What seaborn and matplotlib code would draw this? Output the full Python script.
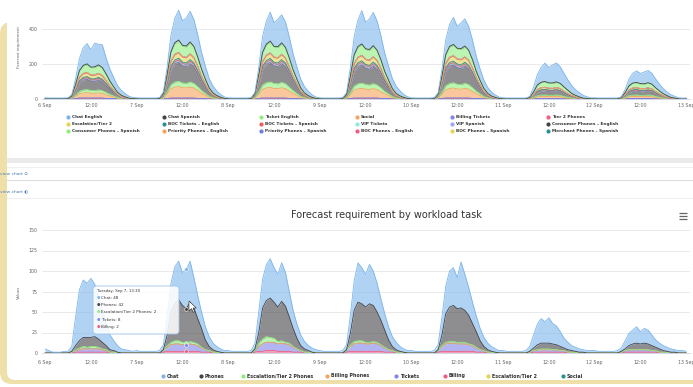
import numpy as np
import matplotlib
matplotlib.use("Agg")
import matplotlib.pyplot as plt
import seaborn as sns
from matplotlib.patches import FancyBboxPatch, Rectangle, Polygon

# ------------------------------------------------------------------ data
tick_labels = ["6 Sep", "12:00", "7 Sep", "12:00", "8 Sep", "12:00", "9 Sep", "12:00",
               "10 Sep", "12:00", "11 Sep", "12:00", "12 Sep", "12:00", "13 Sep"]

top_names = ["Chat English", "Chat Spanish", "Ticket English", "Social", "Billing Tickets",
             "Tier 2 Phones", "Escalation/Tier 2", "BOC Tickets \u2013 English",
             "BOC Tickets \u2013 Spanish", "VIP Tickets", "VIP Spanish",
             "Consumer Phones \u2013 English", "Consumer Phones \u2013 Spanish",
             "Priority Phones \u2013 English", "Priority Phones \u2013 Spanish",
             "BOC Phones \u2013 English", "BOC Phones \u2013 Spanish", "Merchant Phones \u2013 Spanish"]
top_colors = ["#7cb5ec", "#434348", "#90ed7d", "#f7a35c", "#8085e9", "#f15c80", "#e4d354",
              "#2b908f", "#f45b5b", "#91e8e1", "#9fa3f0", "#434348", "#90ed7d", "#f7a35c",
              "#6b7fe6", "#f15c80", "#e4d354", "#2b908f"]

bottom_names = ["Chat", "Phones", "Escalation/Tier 2 Phones", "Billing Phones", "Tickets",
                "Billing", "Escalation/Tier 2", "Social"]
bottom_colors = ["#7cb5ec", "#434348", "#90ed7d", "#f7a35c", "#8085e9", "#f15c80",
                 "#e4d354", "#2b908f"]

top_yticks = [0, 200, 400]
bottom_yticks = [0, 25, 50, 75, 100, 125, 150]

# hourly values, one list of 24 per day (6 Sep ... 12 Sep)
chat_english = [
    [6, 5, 5, 5, 5, 5, 5, 8, 32, 69, 101, 116, 100, 135, 118, 130, 91, 69, 53, 38, 28, 19, 11, 7],
    [6, 5, 5, 5, 5, 5, 5, 11, 44, 96, 140, 170, 140, 160, 175, 154, 126, 96, 74, 53, 39, 26, 16, 9],
    [6, 5, 5, 5, 5, 5, 5, 10, 41, 91, 132, 165, 135, 157, 160, 145, 119, 91, 69, 50, 36, 25, 15, 8],
    [6, 5, 5, 5, 5, 5, 5, 11, 48, 105, 152, 190, 150, 175, 190, 167, 137, 105, 80, 57, 42, 29, 17, 10],
    [6, 5, 5, 5, 5, 5, 5, 9, 39, 85, 124, 155, 125, 147, 155, 136, 112, 85, 65, 47, 34, 23, 14, 8],
    [6, 5, 5, 5, 5, 5, 5, 6, 27, 59, 86, 105, 88, 103, 108, 95, 78, 59, 45, 32, 24, 16, 10, 6],
    [6, 5, 5, 5, 5, 5, 5, 5, 18, 39, 56, 66, 58, 67, 70, 62, 50, 39, 29, 21, 15, 11, 6, 4],
]
chat_spanish = [
    [0, 0, 0, 0, 0, 0, 0, 0, 1, 2, 3, 4, 3, 4, 4, 4, 3, 2, 2, 1, 1, 1, 0, 0],
    [0, 0, 0, 0, 0, 0, 0, 0, 1, 3, 4, 5, 4, 5, 5, 4, 4, 3, 2, 2, 1, 1, 0, 0],
    [0, 0, 0, 0, 0, 0, 0, 0, 1, 3, 4, 5, 4, 5, 5, 4, 4, 3, 2, 2, 1, 1, 0, 0],
    [0, 0, 0, 0, 0, 0, 0, 0, 1, 3, 4, 5, 4, 5, 5, 4, 4, 3, 2, 2, 1, 1, 0, 0],
    [0, 0, 0, 0, 0, 0, 0, 0, 1, 3, 4, 5, 4, 5, 5, 4, 4, 3, 2, 2, 1, 1, 0, 0],
    [0, 0, 0, 0, 0, 0, 0, 0, 1, 2, 2, 3, 2, 3, 3, 2, 2, 2, 1, 1, 1, 0, 0, 0],
    [0, 0, 0, 0, 0, 0, 0, 0, 0, 1, 1, 2, 2, 2, 2, 2, 1, 1, 1, 1, 0, 0, 0, 0],
]
ticket_english = [
    [1, 1, 1, 1, 1, 1, 1, 5, 20, 36, 43, 45, 41, 42, 44, 41, 34, 25, 17, 11, 7, 4, 2, 1],
    [1, 1, 1, 1, 1, 1, 2, 8, 29, 52, 62, 65, 60, 60, 63, 59, 49, 36, 25, 16, 10, 6, 3, 2],
    [1, 1, 1, 1, 1, 1, 2, 7, 28, 50, 59, 62, 57, 58, 60, 56, 47, 34, 24, 16, 9, 6, 3, 2],
    [1, 1, 1, 1, 1, 1, 2, 7, 27, 48, 57, 60, 55, 56, 58, 54, 45, 33, 23, 15, 9, 5, 3, 2],
    [1, 1, 1, 1, 1, 1, 2, 7, 26, 47, 58, 59, 56, 57, 57, 53, 44, 32, 22, 15, 9, 5, 3, 2],
    [1, 1, 1, 1, 1, 1, 1, 4, 14, 24, 29, 30, 28, 28, 29, 27, 23, 17, 11, 8, 5, 3, 2, 1],
    [1, 1, 1, 1, 1, 1, 1, 3, 13, 22, 27, 28, 26, 26, 27, 25, 21, 15, 11, 7, 4, 3, 1, 1],
]
escalation_tier2 = [
    [0, 0, 0, 0, 0, 0, 1, 2, 9, 16, 19, 20, 18, 19, 19, 18, 15, 11, 8, 5, 3, 2, 1, 1],
    [0, 0, 0, 0, 0, 0, 1, 4, 14, 24, 29, 30, 28, 28, 29, 27, 23, 17, 11, 8, 5, 3, 2, 1],
    [0, 0, 0, 0, 0, 0, 1, 3, 13, 22, 27, 28, 26, 26, 27, 25, 21, 15, 11, 7, 4, 3, 1, 1],
    [0, 0, 0, 0, 0, 0, 1, 3, 13, 22, 27, 28, 26, 26, 27, 25, 21, 15, 11, 7, 4, 3, 1, 1],
    [0, 0, 0, 0, 0, 0, 1, 3, 12, 22, 26, 28, 26, 27, 27, 25, 21, 15, 10, 7, 4, 2, 1, 1],
    [0, 0, 0, 0, 0, 0, 0, 1, 5, 8, 10, 10, 9, 9, 10, 9, 8, 6, 4, 3, 2, 1, 1, 0],
    [0, 0, 0, 0, 0, 0, 0, 1, 4, 7, 9, 9, 8, 8, 9, 8, 7, 5, 3, 2, 1, 1, 0, 0],
]
boc_tickets_english = [
    [0, 0, 0, 0, 0, 0, 0, 1, 3, 5, 6, 6, 6, 6, 6, 5, 5, 3, 2, 2, 1, 1, 0, 0],
    [0, 0, 0, 0, 0, 0, 0, 1, 5, 8, 10, 10, 9, 9, 10, 9, 8, 6, 4, 3, 2, 1, 1, 0],
    [0, 0, 0, 0, 0, 0, 0, 1, 5, 8, 10, 10, 9, 9, 10, 9, 8, 6, 4, 3, 2, 1, 1, 0],
    [0, 0, 0, 0, 0, 0, 0, 1, 5, 8, 10, 10, 9, 9, 10, 9, 8, 6, 4, 3, 2, 1, 1, 0],
    [0, 0, 0, 0, 0, 0, 0, 1, 5, 8, 9, 9, 9, 9, 9, 9, 8, 6, 4, 3, 2, 1, 1, 0],
    [0, 0, 0, 0, 0, 0, 0, 0, 1, 2, 3, 3, 3, 3, 3, 3, 2, 2, 1, 1, 0, 0, 0, 0],
    [0, 0, 0, 0, 0, 0, 0, 0, 1, 2, 3, 3, 3, 3, 3, 3, 2, 2, 1, 1, 0, 0, 0, 0],
]
vip_tickets = [
    [0, 0, 0, 0, 0, 0, 0, 1, 2, 5, 6, 6, 5, 6, 6, 5, 4, 3, 2, 1, 1, 0, 0, 0],
    [0, 0, 0, 0, 0, 0, 0, 1, 4, 8, 9, 10, 9, 9, 10, 9, 7, 5, 4, 2, 1, 1, 0, 0],
    [0, 0, 0, 0, 0, 0, 0, 1, 4, 8, 9, 10, 9, 9, 10, 9, 7, 5, 4, 2, 1, 1, 0, 0],
    [0, 0, 0, 0, 0, 0, 0, 1, 4, 8, 9, 10, 9, 9, 10, 9, 7, 5, 4, 2, 1, 1, 0, 0],
    [0, 0, 0, 0, 0, 0, 0, 1, 4, 8, 9, 9, 9, 9, 9, 8, 7, 5, 4, 2, 1, 1, 0, 0],
    [0, 0, 0, 0, 0, 0, 0, 0, 1, 2, 3, 3, 3, 3, 3, 2, 2, 1, 1, 1, 0, 0, 0, 0],
    [0, 0, 0, 0, 0, 0, 0, 0, 1, 2, 3, 3, 3, 3, 3, 2, 2, 1, 1, 1, 0, 0, 0, 0],
]
consumer_phones_english = [
    [0, 0, 0, 0, 0, 0, 0, 5, 24, 48, 57, 60, 54, 53, 58, 53, 42, 29, 18, 10, 5, 2, 1, 0],
    [0, 0, 0, 0, 0, 0, 0, 9, 44, 88, 105, 110, 99, 97, 106, 97, 77, 53, 33, 18, 9, 4, 2, 0],
    [0, 0, 0, 0, 0, 0, 0, 9, 45, 90, 106, 112, 101, 99, 108, 99, 78, 54, 34, 18, 9, 4, 2, 0],
    [0, 0, 0, 0, 0, 0, 0, 8, 42, 84, 100, 105, 95, 92, 101, 92, 74, 50, 32, 17, 8, 4, 2, 0],
    [0, 0, 0, 0, 0, 0, 0, 8, 42, 84, 100, 103, 96, 93, 100, 92, 74, 50, 32, 17, 8, 4, 2, 0],
    [0, 0, 0, 0, 0, 0, 0, 2, 10, 20, 24, 25, 23, 22, 24, 22, 18, 12, 8, 4, 2, 1, 0, 0],
    [0, 0, 0, 0, 0, 0, 0, 2, 10, 19, 23, 24, 22, 21, 23, 21, 17, 12, 7, 4, 2, 1, 0, 0],
]
consumer_phones_spanish = [
    [0, 0, 0, 0, 0, 0, 0, 1, 7, 14, 17, 18, 16, 16, 17, 16, 13, 9, 5, 3, 1, 1, 0, 0],
    [0, 0, 0, 0, 0, 0, 0, 2, 12, 24, 29, 30, 27, 26, 29, 26, 21, 14, 9, 5, 2, 1, 1, 0],
    [0, 0, 0, 0, 0, 0, 0, 3, 13, 26, 30, 32, 29, 28, 31, 28, 22, 15, 10, 5, 3, 1, 1, 0],
    [0, 0, 0, 0, 0, 0, 0, 2, 12, 24, 29, 30, 27, 26, 29, 26, 21, 14, 9, 5, 2, 1, 1, 0],
    [0, 0, 0, 0, 0, 0, 0, 2, 12, 24, 29, 30, 27, 26, 29, 26, 21, 14, 9, 5, 2, 1, 1, 0],
    [0, 0, 0, 0, 0, 0, 0, 1, 3, 6, 8, 8, 7, 7, 8, 7, 6, 4, 2, 1, 1, 0, 0, 0],
    [0, 0, 0, 0, 0, 0, 0, 1, 3, 6, 8, 8, 7, 7, 8, 7, 6, 4, 2, 1, 1, 0, 0, 0],
]
priority_phones_english = [
    [0, 0, 0, 0, 0, 0, 0, 2, 12, 24, 29, 30, 27, 26, 29, 26, 21, 14, 9, 5, 2, 1, 1, 0],
    [0, 0, 0, 0, 0, 0, 0, 5, 26, 52, 62, 65, 59, 57, 62, 57, 46, 31, 20, 10, 5, 3, 1, 0],
    [0, 0, 0, 0, 0, 0, 0, 5, 24, 48, 57, 60, 54, 53, 58, 53, 42, 29, 18, 10, 5, 2, 1, 0],
    [0, 0, 0, 0, 0, 0, 0, 4, 22, 44, 52, 55, 50, 48, 53, 48, 39, 26, 17, 9, 4, 2, 1, 0],
    [0, 0, 0, 0, 0, 0, 0, 5, 23, 46, 54, 57, 51, 50, 55, 50, 40, 27, 17, 9, 5, 2, 1, 0],
    [0, 0, 0, 0, 0, 0, 0, 1, 5, 10, 11, 12, 11, 11, 12, 11, 8, 6, 4, 2, 1, 0, 0, 0],
    [0, 0, 0, 0, 0, 0, 0, 1, 5, 10, 11, 12, 11, 11, 12, 11, 8, 6, 4, 2, 1, 0, 0, 0],
]
quiet_weekday = [0, 0, 0, 0, 0, 0, 0, 0, 1, 2, 2, 2, 2, 2, 2, 2, 1, 1, 1, 0, 0, 0, 0, 0]
quiet_weekend = [0, 0, 0, 0, 0, 0, 0, 0, 0, 1, 1, 1, 1, 1, 1, 1, 0, 0, 0, 0, 0, 0, 0, 0]
zero_day = [0, 0, 0, 0, 0, 0, 0, 0, 0, 0, 0, 0, 0, 0, 0, 0, 0, 0, 0, 0, 0, 0, 0, 0]
quiet_week = [quiet_weekday] * 5 + [quiet_weekend] * 2
zero_week = [zero_day] * 7
# values at 13 Sep 00:00, one per top series
top_final = [5, 0, 1, 0, 0, 0, 0, 0, 0, 0, 0, 0, 0, 0, 0, 0, 0, 0]

chat = [
    [5, 3, 1, 1, 1, 2, 2, 6, 35, 62, 70, 66, 72, 64, 52, 40, 28, 18, 12, 8, 5, 4, 3, 2],
    [3, 2, 2, 2, 2, 2, 3, 6, 23, 35, 45, 47, 40, 48, 50, 37, 28, 20, 16, 12, 8, 6, 4, 3],
    [3, 2, 2, 2, 2, 2, 3, 7, 25, 35, 44, 48, 42, 40, 47, 41, 31, 22, 17, 13, 9, 6, 5, 4],
    [3, 2, 2, 2, 2, 2, 3, 6, 22, 36, 48, 44, 40, 48, 42, 35, 26, 20, 16, 12, 9, 6, 4, 3],
    [3, 2, 2, 2, 2, 2, 3, 6, 22, 34, 44, 46, 38, 56, 44, 34, 26, 19, 15, 11, 8, 6, 4, 3],
    [3, 2, 2, 2, 2, 2, 3, 6, 16, 25, 30, 26, 31, 25, 23, 18, 12, 9, 6, 5, 4, 3, 3, 3],
    [3, 2, 2, 2, 2, 2, 3, 4, 10, 15, 17, 20, 15, 18, 17, 13, 9, 7, 6, 5, 4, 3, 3, 3],
]
phones = [
    [0, 0, 0, 0, 0, 0, 0, 1, 5, 9, 11, 12, 11, 12, 10, 8, 5, 3, 2, 1, 0, 0, 0, 0],
    [0, 0, 0, 0, 0, 0, 0, 1, 13, 37, 45, 50, 45, 42, 48, 42, 31, 23, 12, 5, 3, 1, 1, 0],
    [0, 0, 0, 0, 0, 0, 0, 2, 13, 38, 44, 48, 44, 42, 48, 44, 32, 22, 13, 6, 4, 2, 1, 0],
    [0, 0, 0, 0, 0, 0, 0, 1, 14, 38, 47, 45, 43, 47, 44, 37, 30, 21, 12, 5, 3, 1, 1, 0],
    [0, 0, 0, 0, 0, 0, 0, 1, 13, 35, 42, 44, 41, 42, 39, 35, 26, 19, 11, 5, 3, 1, 1, 0],
    [0, 0, 0, 0, 0, 0, 0, 1, 3, 6, 7, 7, 7, 7, 6, 5, 3, 3, 2, 1, 1, 1, 0, 0],
    [0, 0, 0, 0, 0, 0, 0, 1, 2, 5, 7, 8, 7, 8, 7, 6, 4, 4, 2, 1, 1, 1, 0, 0],
]
escalation_phones = [
    [0, 0, 0, 0, 0, 0, 0, 0, 1, 2, 3, 2, 3, 3, 2, 1, 1, 0, 0, 0, 0, 0, 0, 0],
    [0, 0, 0, 0, 0, 0, 0, 0, 2, 3, 4, 4, 3, 2, 3, 3, 2, 1, 0, 0, 0, 0, 0, 0],
    [0, 0, 0, 0, 0, 0, 0, 0, 4, 6, 7, 6, 5, 3, 3, 2, 2, 1, 0, 0, 0, 0, 0, 0],
    [0, 0, 0, 0, 0, 0, 0, 0, 2, 3, 3, 3, 2, 2, 2, 2, 1, 1, 0, 0, 0, 0, 0, 0],
    [0, 0, 0, 0, 0, 0, 0, 0, 1, 2, 2, 2, 2, 2, 2, 1, 1, 1, 0, 0, 0, 0, 0, 0],
    [0, 0, 0, 0, 0, 0, 0, 0, 0, 0, 1, 1, 1, 0, 0, 0, 0, 0, 0, 0, 0, 0, 0, 0],
    [0, 0, 0, 0, 0, 0, 0, 0, 0, 0, 0, 0, 0, 0, 0, 0, 0, 0, 0, 0, 0, 0, 0, 0],
]
tickets = [
    [0, 0, 0, 0, 0, 0, 0, 1, 2, 3, 4, 4, 4, 4, 4, 3, 2, 1, 1, 0, 0, 0, 0, 0],
    [0, 0, 0, 0, 0, 0, 0, 2, 5, 8, 9, 9, 8, 8, 9, 8, 7, 5, 3, 2, 1, 1, 0, 0],
    [0, 0, 0, 0, 0, 0, 0, 2, 6, 9, 10, 10, 10, 9, 10, 9, 8, 6, 4, 2, 1, 1, 0, 0],
    [0, 0, 0, 0, 0, 0, 0, 2, 6, 9, 10, 10, 9, 9, 10, 9, 7, 5, 3, 2, 1, 1, 0, 0],
    [0, 0, 0, 0, 0, 0, 0, 2, 6, 9, 10, 10, 9, 9, 9, 8, 7, 5, 3, 2, 1, 1, 0, 0],
    [0, 0, 0, 0, 0, 0, 0, 1, 2, 3, 3, 3, 3, 3, 3, 2, 2, 1, 1, 1, 0, 0, 0, 0],
    [0, 0, 0, 0, 0, 0, 0, 1, 2, 3, 3, 3, 3, 3, 3, 2, 2, 1, 1, 1, 0, 0, 0, 0],
]
billing = [
    [0, 0, 0, 0, 0, 0, 0, 0, 1, 1, 1, 1, 1, 1, 1, 1, 1, 0, 0, 0, 0, 0, 0, 0],
    [0, 0, 0, 0, 0, 0, 0, 1, 2, 2, 2, 2, 2, 2, 2, 2, 2, 1, 1, 1, 0, 0, 0, 0],
    [0, 0, 0, 0, 0, 0, 0, 1, 2, 2, 3, 3, 3, 2, 2, 2, 2, 1, 1, 1, 0, 0, 0, 0],
    [0, 0, 0, 0, 0, 0, 0, 1, 2, 2, 2, 2, 2, 2, 2, 2, 2, 1, 1, 1, 0, 0, 0, 0],
    [0, 0, 0, 0, 0, 0, 0, 1, 2, 2, 2, 2, 2, 2, 2, 2, 2, 1, 1, 1, 0, 0, 0, 0],
    [0, 0, 0, 0, 0, 0, 0, 0, 1, 1, 1, 1, 1, 1, 1, 1, 1, 0, 0, 0, 0, 0, 0, 0],
    [0, 0, 0, 0, 0, 0, 0, 0, 1, 1, 1, 1, 1, 1, 1, 1, 1, 0, 0, 0, 0, 0, 0, 0],
]
bottom_final = [2, 0, 0, 0, 0, 0, 0, 0]

tooltip_header = "Tuesday, Sep 7, 13:30"
tooltip_day, tooltip_hour = 1, 13

# ------------------------------------------------------------------ build
def flat(days, final):
    return np.array([v for d in days for v in d] + [final], dtype=float)

top_days = [chat_english, chat_spanish, ticket_english, zero_week, quiet_week, quiet_week,
            escalation_tier2, boc_tickets_english, zero_week, vip_tickets, quiet_week,
            consumer_phones_english, consumer_phones_spanish, priority_phones_english,
            quiet_week, quiet_week, zero_week, quiet_week]
top_series = [flat(d, f) for d, f in zip(top_days, top_final)]
bottom_days = [chat, phones, escalation_phones, zero_week, tickets, billing, zero_week, zero_week]
bottom_series = [flat(d, f) for d, f in zip(bottom_days, bottom_final)]
hours = np.arange(len(top_series[0]))

sns.set_theme(style="white")
plt.rcParams["font.family"] = ["DejaVu Sans"]

W, H = 693, 387
fig = plt.figure(figsize=(W / 100, H / 100), dpi=100)
fig.patch.set_facecolor("white")


def pix_axes(z):
    a = fig.add_axes([0, 0, 1, 1], zorder=z)
    a.set_xlim(0, W)
    a.set_ylim(H, 0)
    a.axis("off")
    a.patch.set_alpha(0)
    return a


bg = pix_axes(0)
ov = pix_axes(5)

# frame
bg.add_patch(FancyBboxPatch((0, 22), 800, 362, boxstyle="round,pad=0,rounding_size=12",
                            fc="#efe0aa", ec="none"))
bg.add_patch(FancyBboxPatch((7, 2), 800, 378, boxstyle="round,pad=0,rounding_size=8",
                            fc="white", ec="none"))
bg.add_patch(Rectangle((7, 158), 700, 5, fc="#ebebeb", ec="none"))
for yy, cc in [(167, "#f0f0f0"), (180, "#dcdcdc"), (198, "#f0f0f0")]:
    bg.plot([7, 693], [yy, yy], color=cc, lw=0.8)


def draw_chart(rect, series, colors, yticks, ylim):
    ax = fig.add_axes(rect, zorder=2)
    ax.patch.set_alpha(0)
    base = np.zeros(len(hours))
    layers = []
    for vals, col in zip(series[::-1], colors[::-1]):
        top = base + vals
        ax.fill_between(hours, base, top, color=col, alpha=0.6, linewidth=0, zorder=2)
        layers.append((top, col))
        base = top
    for top, col in layers:
        sns.lineplot(x=hours, y=top, color=col, linewidth=0.6, ax=ax, zorder=3)
    ax.set_xlim(-0.8, 169.0)
    ax.set_ylim(*ylim)
    ax.set_xticks(np.arange(0, 169, 12))
    ax.set_xticklabels(tick_labels)
    ax.set_yticks(yticks)
    ax.set_yticklabels([str(v) for v in yticks])
    ax.grid(axis="y", color="#e6e6e6", lw=0.6)
    ax.set_axisbelow(True)
    for s in ["top", "right", "left"]:
        ax.spines[s].set_visible(False)
    ax.spines["bottom"].set_color("#ccd6eb")
    ax.spines["bottom"].set_linewidth(0.6)
    ax.tick_params(axis="x", length=2, width=0.5, color="#ccd6eb", labelsize=3.4,
                   labelcolor="#666666", pad=1)
    ax.tick_params(axis="y", length=0, labelsize=3.4, labelcolor="#666666", pad=3)
    ax.set_xlabel("")
    ax.set_ylabel("")
    return ax


ax1 = draw_chart([42 / W, 1 - 99 / H, 648 / W, 91 / H], top_series, top_colors, top_yticks, (0, 520))
ax2 = draw_chart([42 / W, 1 - 353 / H, 648 / W, 123 / H], bottom_series, bottom_colors,
                 bottom_yticks, (0, 150))
ax2.tick_params(axis="x", pad=3)

# axis titles / chart title
ov.text(19, 47, "Forecast requirement", rotation=90, fontsize=2.8, color="#666666",
        ha="center", va="center")
ov.text(19, 292, "Values", rotation=90, fontsize=3, color="#666666", ha="center", va="center")
ov.text(386, 215, "Forecast requirement by workload task", fontsize=7, color="#333333",
        ha="center", va="center")
for yy in (213, 216, 219):
    ov.plot([679, 687], [yy, yy], color="#666666", lw=0.9, solid_capstyle="butt")

# "view chart" links
ov.text(0.5, 174, "view chart \u2299", fontsize=3.2, color="#4a7bb7", ha="left", va="center")
ov.text(0.5, 191, "view chart \u25d0", fontsize=3.2, color="#4a7bb7", ha="left", va="center")


def legend_item(x, y, label, color, fs):
    ov.plot([x], [y], marker="o", ms=3.0, color=color, mec="none")
    ov.text(x + 4, y, label, fontsize=fs, color="#333333", va="center", ha="left",
            fontweight="bold")


top_cols = [68, 164, 261, 357, 452, 548]
top_rows = [117, 124, 131]
for i, (nm, col) in enumerate(zip(top_names, top_colors)):
    legend_item(top_cols[i % 6], top_rows[i // 6], nm, col, 3.1)

bottom_leg_x = [163, 201, 243, 327, 396, 445, 488, 563]
for x, nm, col in zip(bottom_leg_x, bottom_names, bottom_colors):
    legend_item(x, 376, nm, col, 3.4)

# hover markers and tooltip
idx = tooltip_day * 24 + tooltip_hour
cum = 0.0
tops = {}
for vals, nm in zip(bottom_series[::-1], bottom_names[::-1]):
    cum += vals[idx]
    tops[nm] = cum
for nm, col in zip(bottom_names, bottom_colors):
    if bottom_series[bottom_names.index(nm)][idx] > 0:
        ax2.scatter([hours[idx]], [tops[nm]], s=7, color=col, edgecolor="white",
                    linewidth=0.4, zorder=6)

ov.add_patch(FancyBboxPatch((93, 286), 86, 48, boxstyle="round,pad=0,rounding_size=3",
                            fc=(1, 1, 1, 0.85), ec="#9fc3e8", lw=0.6))
ov.text(97, 291, tooltip_header, fontsize=2.8, color="#333333", va="center", ha="left")
ty = 298
for nm, col in zip(bottom_names, bottom_colors):
    v = bottom_series[bottom_names.index(nm)][idx]
    if v > 0:
        ov.text(97, ty, "\u25cf", fontsize=2.8, color=col, va="center", ha="left")
        ov.text(101, ty, f"{nm}: {int(v)}", fontsize=3.0, color="#333333",
                va="center", ha="left")
        ty += 7.2

# mouse pointer
ov.add_patch(Polygon([(189, 301), (189, 311), (191.5, 308.6), (193.2, 312.2), (194.6, 311.6),
                      (193, 308), (196.3, 308)], closed=True, fc="white", ec="#222222", lw=0.4))

fig.savefig("out.png", dpi=100, facecolor="white")
